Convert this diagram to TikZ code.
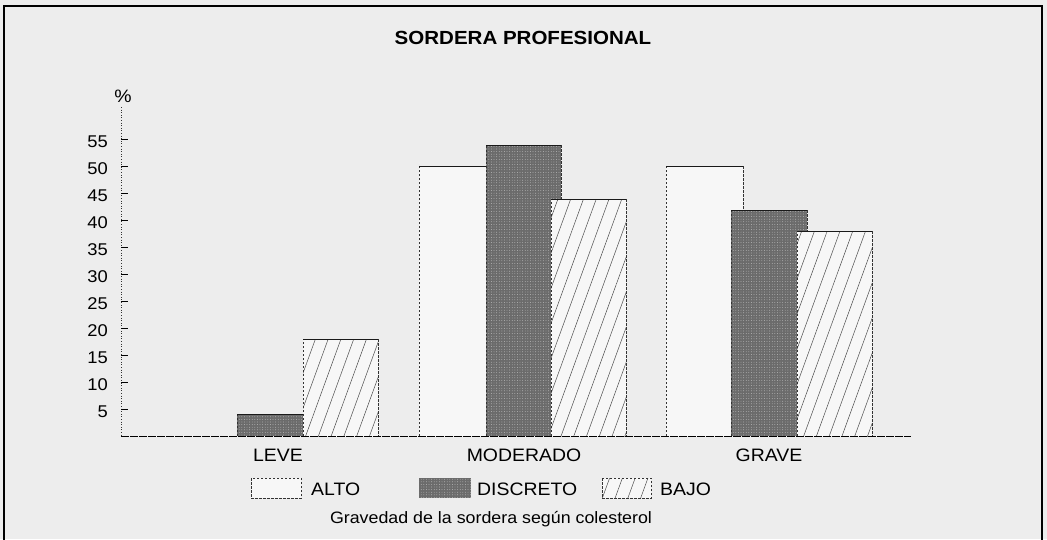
\documentclass[tikz,border=0pt]{standalone}
\usepackage{fontspec}
\setmainfont{Liberation Sans}[FakeStretch=1.08]
\usetikzlibrary{patterns.meta}
\begin{document}
\begin{tikzpicture}[x=1pt,y=-1pt,
  lbl/.style={inner sep=0pt,font=\fontsize{18}{18}\selectfont},
  ticklbl/.style={inner sep=0pt,anchor=east,font=\fontsize{17}{17}\selectfont},
  sidedash/.style={line width=0.6pt,dash pattern=on 2.5pt off 1.5pt,black!80},
  topline/.style={line width=1pt,black!90},
  alto/.style={fill=black!3},
  discreto/.style={preaction={fill=black!58},pattern={Dots[radius=0.45pt,distance=2.6pt]},pattern color=black!25},
  bajo/.style={preaction={fill=black!3},pattern={Lines[angle=70,distance=12pt,line width=0.5pt]},pattern color=black!70},
]
\useasboundingbox (0,0) rectangle (1047,539);
\fill[black!7] (0,0) rectangle (1047,539);
\draw[line width=1.3pt] (4,545) -- (4,6) -- (1042,6) -- (1042,545);

\newcommand{\mkbar}[4]{%
  \path[#4] (#1,436) rectangle (#2,#3);
  \draw[sidedash] (#1,436) -- (#1,#3) (#2,#3) -- (#2,436);
  \draw[topline] (#1,#3) -- (#2,#3);
}

% title
\node[inner sep=0pt,font=\bfseries\fontsize{19}{19}\selectfont] (title) at (523,38) {SORDERA PROFESIONAL};

% axis
\node[lbl] (pct) at (123,96) {\%};
\coordinate (ytop) at (121,107);
\coordinate (orig) at (121,436);
\coordinate (xend) at (911,436);
\draw[line width=0.8pt,dash pattern=on 1pt off 1.6pt,black!80] (ytop) -- (orig);
\foreach \v in {5,10,...,55}{
  \pgfmathsetmacro{\yy}{436-\v*5.4}
  \draw[line width=0.8pt] (121,\yy) -- (128,\yy);
  \node[ticklbl] (t\v) at (108,\yy+3) {\v};
}

% bars LEVE
\mkbar{237}{303}{414}{discreto}
\mkbar{303}{378}{339}{bajo}
% bars MODERADO
\mkbar{419}{486}{166}{alto}
\mkbar{486}{561}{145}{discreto}
\mkbar{551}{626}{199}{bajo}
% bars GRAVE
\mkbar{666}{743}{166}{alto}
\mkbar{731}{807}{210}{discreto}
\mkbar{797}{872}{231}{bajo}

\draw[line width=1pt,dash pattern=on 8pt off 1pt] (orig) -- (xend);

% categories
\node[lbl] (leve) at (278,455) {LEVE};
\node[lbl] (mod) at (524,455) {MODERADO};
\node[lbl] (grave) at (769,455) {GRAVE};

% legend
\path[alto] (251,478) rectangle (301,498);
\draw[sidedash] (251,478) rectangle (301,498);
\node[lbl,anchor=west] (lalto) at (311,489) {ALTO};
\path[discreto] (419,478) rectangle (471,498);
\node[lbl,anchor=west] (ldisc) at (477,489) {DISCRETO};
\path[bajo] (602,478) rectangle (651,498);
\draw[sidedash] (602,478) rectangle (651,498);
\node[lbl,anchor=west] (lbajo) at (660,489) {BAJO};

\node[inner sep=0pt,font=\fontsize{16.5}{16.5}\selectfont] (cap) at (491,519) {Gravedad de la sordera según colesterol};
\end{tikzpicture}
\end{document}
